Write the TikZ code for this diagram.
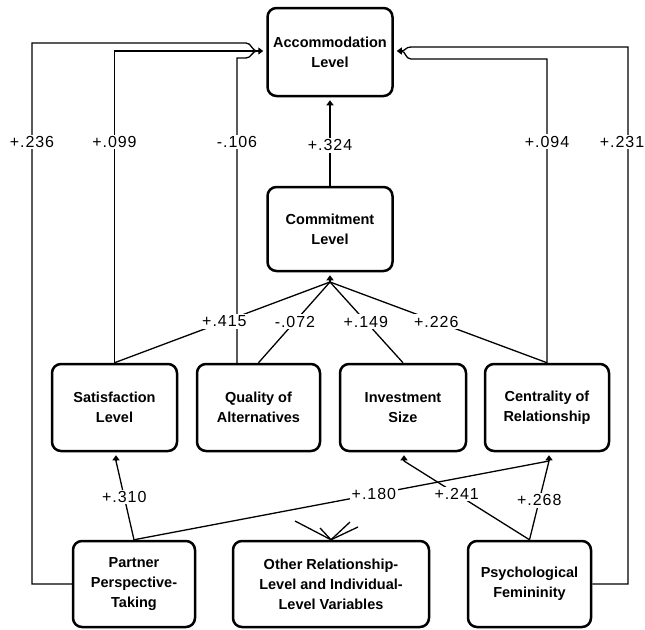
\documentclass[tikz,border=0pt]{standalone}
\usepackage{fontspec}
\setmainfont{Liberation Sans}
\newfontfamily\labfont[LetterSpace=6]{Liberation Sans}
\usetikzlibrary{arrows.meta}
\begin{document}
\begin{tikzpicture}[x=1pt,y=-1pt,
  box/.style={draw, line width=2.5pt, rounded corners=9pt, align=center,
    font=\fontsize{14.5}{20}\selectfont\bfseries, inner sep=0pt},
  conn/.style={line width=1.3pt},
  lab/.style={fill=white, inner sep=1.5pt, font=\labfont\fontsize{16}{16}\selectfont},
  tip/.style={-{Triangle[length=5pt,width=7pt]}, line width=1.3pt, shorten >=3pt}
]
\useasboundingbox (0,0) rectangle (645,629);

% boxes
\node[box, minimum width=125pt, minimum height=88pt] (acc) at (330,52) {Accommodation\\Level};
\node[box, minimum width=125pt, minimum height=84pt] (com) at (330,229) {Commitment\\Level};
\node[box, minimum width=125pt, minimum height=87pt] (sat) at (114.5,407.5) {Satisfaction\\Level};
\node[box, minimum width=123pt, minimum height=87pt] (qual) at (258.5,407.5) {Quality of\\Alternatives};
\node[box, minimum width=126pt, minimum height=87pt] (inv) at (403,407.5) {Investment\\Size};
\node[box, minimum width=124pt, minimum height=87pt] (cen) at (547,407.5) {Centrality of\\Relationship};
\node[box, minimum width=122pt, minimum height=86pt] (part) at (134,584) {Partner\\Perspective-\\Taking};
\node[box, minimum width=196pt, minimum height=86pt] (oth) at (331,584) {Other Relationship-\\Level and Individual-\\Level Variables};
\node[box, minimum width=123pt, minimum height=86pt] (psy) at (529.5,584) {Psychological\\Femininity};

% junction coordinates
\coordinate (lin) at (258,51);
\coordinate (rin) at (401,51);
\coordinate (acin) at (330,105);
\coordinate (cin) at (330,282);
\coordinate (satin) at (116,461);
\coordinate (invin) at (404,461);
\coordinate (cenin) at (549,461);
\coordinate (f1) at (295,521);
\coordinate (f2) at (320,528);
\coordinate (f3) at (350,522);
\coordinate (f4) at (358,527);

% commitment -> accommodation
\draw[conn] (com.north) -- node[lab,pos=.5]{+.324} (acin);
\draw[tip] (acin) -- (acc.south);

% left feedback paths into accommodation
\draw[conn] (part.west) -- (32,584) -- node[lab,pos=.817]{+.236} (32,43) -- (246,43)
  .. controls (252,43) and (251,51) .. (lin);
\draw[conn] (sat.north) -- node[lab,pos=.709]{+.099} (sat.north |- lin) -- (lin);
\draw[conn] ([xshift=-21.5pt]qual.north) -- node[lab,pos=.725]{-.106} (237,58) -- (246,58)
  .. controls (252,58) and (251,51) .. (lin);
\draw[tip] (lin) -- (lin -| acc.west);

% right feedback paths into accommodation
\draw[conn] (psy.east) -- (628,584) -- node[lab,pos=.823,xshift=-6pt]{+.231} (628,47) -- (411,47)
  .. controls (405,47) and (406,51) .. (rin);
\draw[conn] (cen.north) -- node[lab,pos=.728]{+.094} (cen.north |- 0,59) -- (411,59)
  .. controls (405,59) and (406,51) .. (rin);
\draw[tip] (rin) -- (rin -| acc.east);

% determinants -> commitment
\draw[conn] (sat.north) -- node[lab,pos=.51]{+.415} (cin);
\draw[conn] (qual.north) -- node[lab,pos=.51]{-.072} (cin);
\draw[conn] (inv.north) -- node[lab,pos=.51]{+.149} (cin);
\draw[conn] (cen.north) -- node[lab,pos=.51]{+.226} (cin);
\draw[tip] (cin) -- (com.south);

% bottom row -> middle row
\draw[conn] (part.north) -- node[lab,pos=.54]{+.310} (satin);
\draw[conn] (part.north) -- node[lab,pos=.578]{+.180} (cenin);
\draw[conn] (psy.north) -- node[lab,pos=.58]{+.241} (invin);
\draw[conn] (psy.north) -- node[lab,pos=.5]{+.268} (cenin);
\draw[tip] (satin) -- (satin |- sat.south);
\draw[tip] (invin) -- (invin |- inv.south);
\draw[tip] (cenin) -- (cenin |- cen.south);

% fan above other variables
\draw[conn] (oth.north) -- (f1);
\draw[conn] (oth.north) -- (f2);
\draw[conn] (oth.north) -- (f3);
\draw[conn] (oth.north) -- (f4);
\end{tikzpicture}
\end{document}
